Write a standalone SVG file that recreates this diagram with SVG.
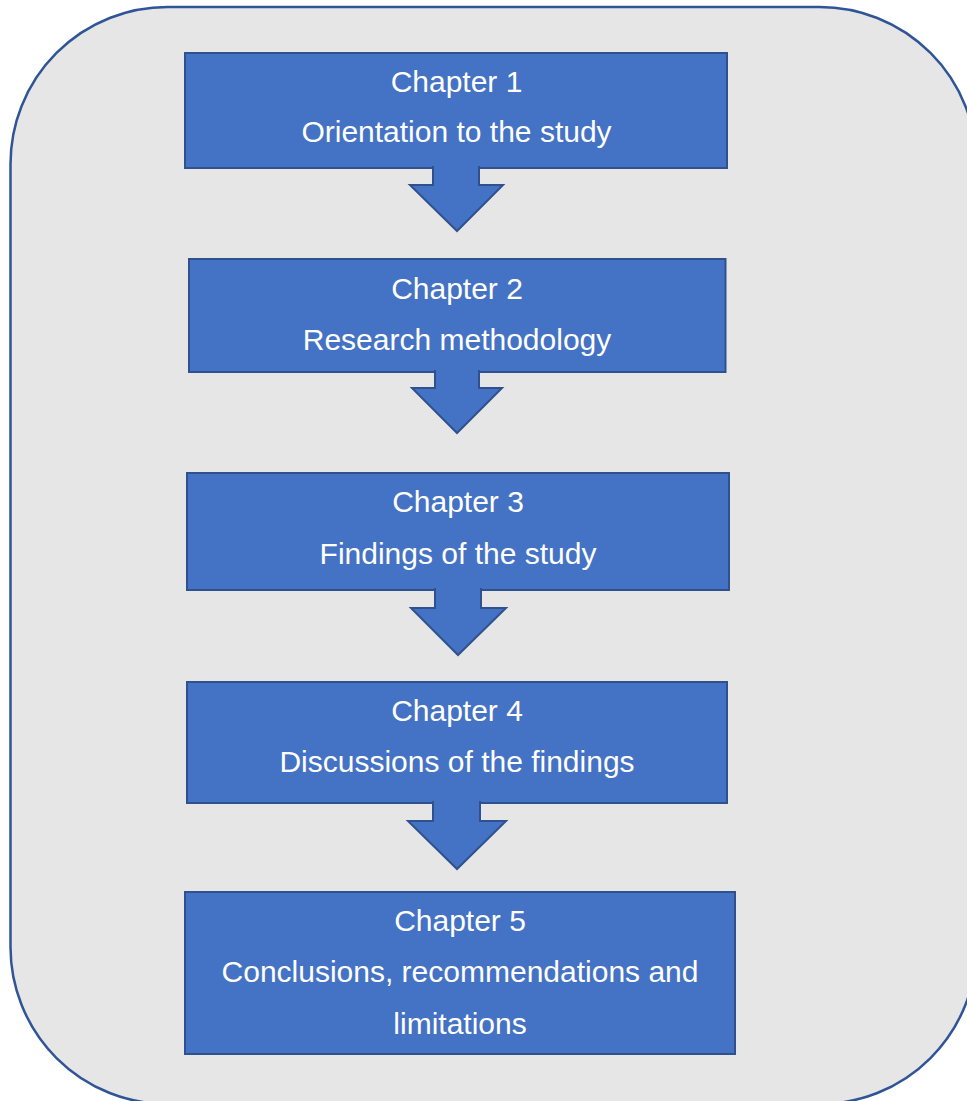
<svg xmlns="http://www.w3.org/2000/svg" width="967" height="1101" viewBox="0 0 967 1101">
<style>
.outer{fill:#E6E6E6;stroke:#2F5597;stroke-width:2.5}
.box{fill:#4472C4;stroke:#2F528F;stroke-width:2}
.arrow{fill:#4472C4;stroke:#2F528F;stroke-width:2;stroke-linejoin:miter}
.t{font-family:"Liberation Sans",Arial,sans-serif;font-size:30px;fill:#FFFFFF;text-anchor:middle}
</style>
<rect width="967" height="1101" fill="#FFFFFF"/>
<rect class="outer" x="10.5" y="7" width="966" height="1097" rx="157" ry="157"/>
<g id="node1">
<rect class="box" x="185" y="53" width="542" height="115"/>
<text class="t" x="456.5" y="92">Chapter 1</text>
<text class="t" x="456.5" y="142">Orientation to the study</text>
</g>
<g id="node2">
<rect class="box" x="189" y="259" width="536.5" height="113"/>
<text class="t" x="457" y="298.5">Chapter 2</text>
<text class="t" x="457" y="349.5">Research methodology</text>
</g>
<g id="node3">
<rect class="box" x="187" y="473" width="542" height="117"/>
<text class="t" x="458" y="512">Chapter 3</text>
<text class="t" x="458" y="563.5">Findings of the study</text>
</g>
<g id="node4">
<rect class="box" x="187" y="682" width="540" height="121"/>
<text class="t" x="457" y="721">Chapter 4</text>
<text class="t" x="457" y="772">Discussions of the findings</text>
</g>
<g id="node5">
<rect class="box" x="185" y="892" width="550" height="162"/>
<text class="t" x="460" y="931">Chapter 5</text>
<text class="t" x="460" y="982">Conclusions, recommendations and</text>
<text class="t" x="460" y="1034">limitations</text>
</g>
<g id="connectors">
<path class="arrow" d="M433,166 L433,185 L410,185 L457,231 L503,185 L479,185 L479,166"/>
<path class="arrow" d="M435,370 L435,388 L412,388 L457,433 L502,388 L479,388 L479,370"/>
<path class="arrow" d="M435,588 L435,608 L411,608 L458,655 L506,608 L481,608 L481,588"/>
<path class="arrow" d="M433,801 L433,821 L408,821 L457,869 L506,821 L480,821 L480,801"/>
</g>
</svg>
